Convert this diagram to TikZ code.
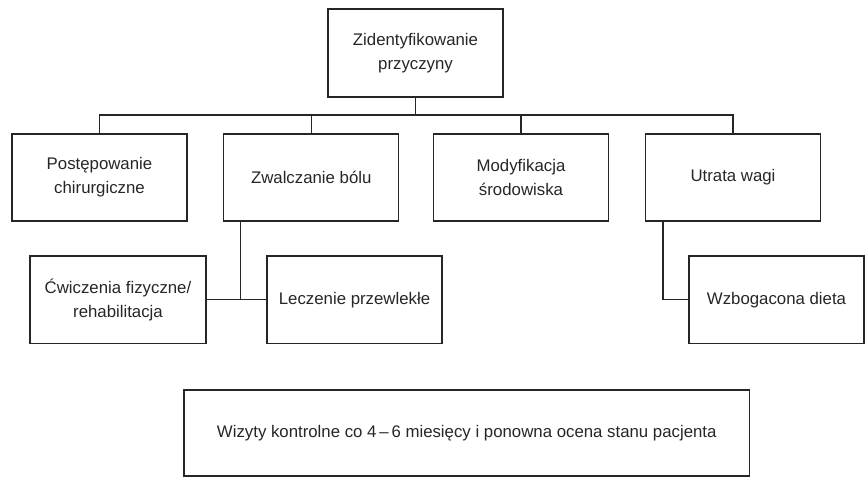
\documentclass[tikz,border=0pt]{standalone}
\usepackage{fontspec}
\setmainfont{Liberation Sans}
\begin{document}
\begin{tikzpicture}[x=0.75pt,y=-0.75pt,
  box/.style={draw=black!85,line width=0.9pt,inner sep=0pt,align=center,text=black!85,
    font=\fontsize{12.6}{18}\selectfont},
  conn/.style={draw=black!85,line width=0.9pt}]
\useasboundingbox (0,0) rectangle (866,477);
\node[box,minimum width=131.25pt,minimum height=66pt] (top) at (415.5,53) {Zidentyfikowanie\\przyczyny};
\node[box,minimum width=131.25pt,minimum height=65.25pt] (b1) at (99.5,177.5) {Postępowanie\\chirurgiczne};
\node[box,minimum width=131.25pt,minimum height=65.25pt] (b2) at (311.25,177.5) {Zwalczanie bólu};
\node[box,minimum width=131.25pt,minimum height=65.25pt] (b3) at (521,177.5) {Modyfikacja\\środowiska};
\node[box,minimum width=131.25pt,minimum height=65.25pt] (b4) at (733,177.5) {Utrata wagi};
\node[box,minimum width=132pt,minimum height=65.5pt] (c1) at (118,299.75) {Ćwiczenia fizyczne/\\rehabilitacja};
\node[box,minimum width=131.25pt,minimum height=65.5pt] (c2) at (354.5,299.75) {Leczenie przewlekłe};
\node[box,minimum width=131.25pt,minimum height=65.5pt] (w) at (776.5,299.75) {Wzbogacona dieta};
\node[box,minimum width=424pt,minimum height=64.5pt] (f) at (466.75,433) {Wizyty kontrolne co 4\,–\,6 miesięcy i ponowna ocena stanu pacjenta};
\coordinate (bus) at (0,115);
\draw[conn] (top.south) -- (top.south |- bus);
\draw[conn] (b1.north) -- (b1.north |- bus) -- (b4.north |- bus) -- (b4.north);
\draw[conn] (b2.north) -- (b2.north |- bus);
\draw[conn] (b3.north) -- (b3.north |- bus);
\draw[conn] ([xshift=13.2pt]b2.south west) |- (c2.west);
\draw[conn] (c1.east) -- (c2.west);
\draw[conn] ([xshift=13.5pt]b4.south west) |- (w.west);
\end{tikzpicture}
\end{document}
